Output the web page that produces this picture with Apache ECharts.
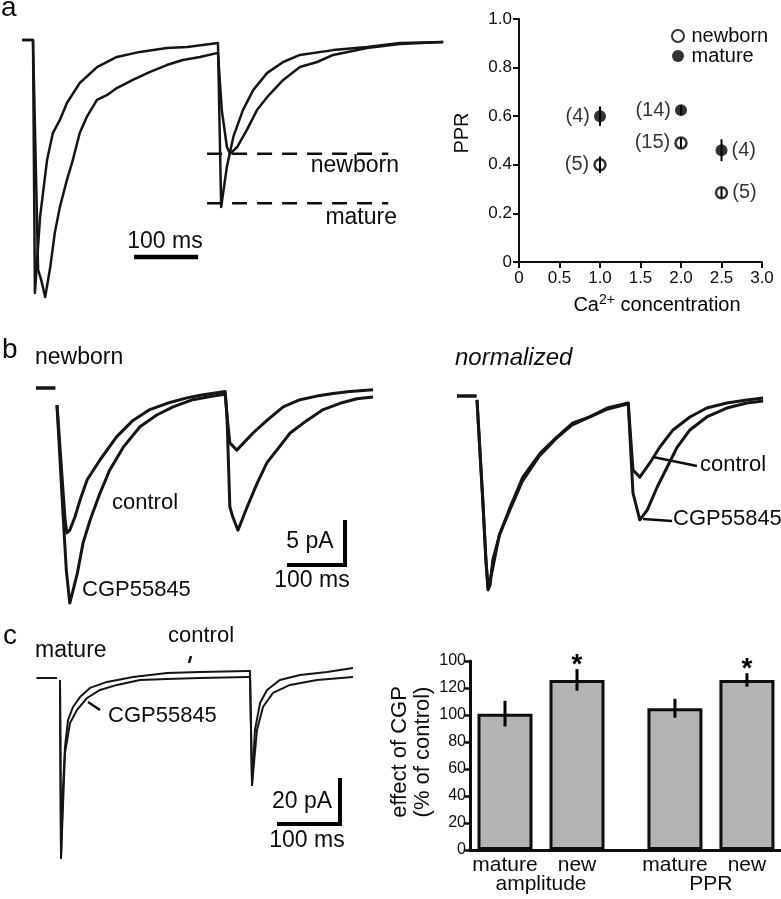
<!DOCTYPE html>
<html><head><meta charset="utf-8">
<script src="https://cdn.jsdelivr.net/npm/echarts@6/dist/echarts.min.js"></script>
<style>html,body{margin:0;padding:0;background:#fff}#c{width:781px;height:899px}</style>
</head><body><div id="c"></div>
<script>
// ---------------- DATA ----------------
// panel a: normalized currents (t in ms, I normalized to first peak)
const aMature = [[-17,0],[0,0],[3,-1.0],[11,-0.70],[22,-0.474],[31,-0.368],[42,-0.316],[53,-0.249],[73,-0.17],[100,-0.107],[131,-0.067],[167,-0.047],[209,-0.032],[241,-0.028],[289,-0.012],
  [291,-0.012],[294,-0.66],[303,-0.50],[313,-0.383],[328,-0.277],[344,-0.198],[366,-0.130],[391,-0.087],[417,-0.059],[469,-0.04],[522,-0.028],[573,-0.012],[641,-0.008]];
const aNewborn = [[-17,0],[0,0],[8,-0.909],[13,-0.95],[19,-1.016],[27,-0.897],[34,-0.763],[42,-0.66],[53,-0.553],[61,-0.486],[73,-0.368],[84,-0.304],[100,-0.237],[116,-0.217],[131,-0.19],[156,-0.158],[183,-0.126],[209,-0.099],[234,-0.079],[261,-0.067],[289,-0.051],
  [291,-0.051],[295,-0.277],[303,-0.423],[308,-0.45],[319,-0.423],[334,-0.356],[350,-0.277],[366,-0.225],[391,-0.158],[417,-0.107],[444,-0.087],[469,-0.059],[522,-0.032],[573,-0.016],[641,-0.008]];
const aPeakLevels = [-0.45, -0.645]; // newborn, mature second-response levels
const aLevelNames = ['newborn', 'mature'];

// panel a right: PPR vs Ca2+
const caConc = [1.0, 2.0, 2.5];
const pprMature = [0.60, 0.625, 0.46];
const pprMatureErr = [0.04, 0.02, 0.045];
const pprNewborn = [0.40, 0.49, 0.285];
const pprNewbornErr = [0.034, 0.02, 0.02];
const nMature = [4, 14, 4];
const nNewborn = [5, 15, 5];
const caTicks = ['0','0.5','1.0','1.5','2.0','2.5','3.0'];
const pprTicks = ['0','0.2','0.4','0.6','0.8','1.0'];

// panel b: newborn currents (pA)
const bControl = [[-36,0],[-3,0],[-2,'-'],[0,-1.9],[14,-14.7],[17,-16.1],[22,-15.8],[31,-14.3],[40,-12.4],[52,-10.2],[74,-8.0],[103,-5.4],[131,-3.6],[160,-2.4],[190,-1.7],[224,-1.1],[247,-0.8],[290,-0.4],
  [293,-3.0],[298,-6.1],[310,-6.9],[338,-5.0],[362,-3.6],[390,-2.1],[419,-1.3],[448,-0.9],[476,-0.6],[505,-0.4],[545,-0.2]];
const bCGP = [[-36,0],[-3,0],[-2,'-'],[0,-1.9],[9,-12.4],[16,-20.2],[22,-23.9],[28,-22.4],[35,-20.6],[45,-17.2],[57,-14.7],[74,-11.7],[91,-9.1],[114,-6.6],[143,-4.3],[172,-3.0],[200,-2.1],[234,-1.3],[269,-0.9],[290,-0.7],
  [293,-3.0],[298,-13.2],[303,-14.3],[312,-15.8],[328,-13.2],[345,-10.6],[362,-8.3],[379,-6.9],[402,-5.0],[431,-3.6],[459,-2.4],[488,-1.7],[517,-1.2],[545,-1.0]];
// panel b right: normalized
const nControl = [[-38,0],[-1,0],[0,'-'],[0,-0.02],[11,-0.536],[17,-0.845],[21,-1.0],[25,-0.974],[30,-0.845],[44,-0.706],[63,-0.572],[87,-0.418],[120,-0.294],[152,-0.211],[182,-0.139],[214,-0.108],[247,-0.062],[287,-0.036],
  [290,-0.036],[296,-0.381],[309,-0.418],[328,-0.345],[347,-0.263],[372,-0.175],[404,-0.108],[436,-0.062],[474,-0.036],[512,-0.021],[543,-0.010]];
const nCGP = [[-38,0],[-1,0],[0,'-'],[0,-0.02],[11,-0.54],[17,-0.85],[21,-0.99],[24,-1.0],[29,-0.9],[42,-0.72],[62,-0.59],[86,-0.44],[118,-0.31],[150,-0.22],[180,-0.15],[212,-0.11],[245,-0.07],[287,-0.04],
  [290,-0.04],[296,-0.5],[309,-0.639],[323,-0.588],[342,-0.469],[361,-0.366],[380,-0.263],[404,-0.175],[436,-0.108],[474,-0.062],[512,-0.036],[543,-0.026]];

// panel c: mature currents (pA)
const cControl = [[-37,0],[-5,0],[-4,'-'],[0,-0.9],[1.6,-78.3],[4.8,-47.4],[7.9,-30.0],[12.7,-18.3],[20.6,-12.6],[31.7,-8.3],[47.6,-4.3],[74.6,-1.7],[116,0.4],[170,2.2],[222,2.6],[298,3.0],
  [301.6,3.0],[304.8,-46.5],[309.5,-22.6],[317.5,-10.9],[328.6,-5.2],[349,-0.9],[381,1.3],[424,2.6],[465,4.3]];
const cCGP = [[-37,0],[-5,0],[-4,'-'],[0,-0.9],[1.6,-78.3],[7.9,-32.6],[15.9,-19.6],[27,-13.9],[42.9,-8.7],[63.5,-5.2],[90.5,-3.0],[127,-0.9],[170,-0.4],[222,0],[298,0.4],
  [301.6,0.4],[304.8,-46.5],[312.7,-22.6],[322.2,-12.6],[338.1,-6.5],[365.1,-3.0],[407.9,-0.9],[465,0.4]];

// panel c right: effect of CGP (% of control)
const effectGroups = ['amplitude', 'PPR'];
const effectCats = ['mature', 'new'];
const effectMature = [101, 105];
const effectMatureErr = [9.5, 7];
const effectNew = [126, 126];
const effectNewErr = [8, 5];
const effectNewSig = [true, true];
const effectTicks = ['0','20','40','60','80','100','120','100'];

// ---------------- CHART ----------------
const FF = '"Liberation Sans", Arial, Helvetica, sans-serif';
const INK = '#0d0d0d';
const chart = echarts.init(document.getElementById('c'), null, {renderer: 'canvas'});

const hiddenX = (gi, min, max) => ({type:'value', gridIndex: gi, min, max, show: false});
const hiddenY = hiddenX;
const trace = (data, xi, w) => ({type:'line', xAxisIndex: xi, yAxisIndex: xi, data, showSymbol:false, symbol:'none', silent:true,
  lineStyle:{color: '#151515', width: w || 2, join:'round'}, connectNulls:false, animation:false});
const bar = (data, xi, w) => ({type:'line', xAxisIndex: xi, yAxisIndex: xi, data, symbol:'none', silent:true,
  lineStyle:{color:'#000', width: w, join:'miter', cap:'butt'}, animation:false});

// bar positions (layout)
const barX = (g, i) => 1 + g * 2.36 + i;
const barData = [], errData = [];
effectGroups.forEach((g, gi) => {
  barData.push([barX(gi,0), effectMature[gi]]);
  barData.push([barX(gi,1), effectNew[gi]]);
  errData.push([barX(gi,0), effectMature[gi], effectMatureErr[gi], 0]);
  errData.push([barX(gi,1), effectNew[gi], effectNewErr[gi], effectNewSig[gi] ? 1 : 0]);
});

const errRender = (lw, withStar) => (params, api) => {
  const x = api.value(0), y = api.value(1), e = api.value(2);
  const p1 = api.coord([x, y - e]), p2 = api.coord([x, y + e]);
  const children = [{type:'line', shape:{x1:p1[0], y1:p1[1], x2:p2[0], y2:p2[1]}, style:{stroke:'#000', lineWidth: lw}}];
  if (withStar && api.value(3)) {
    children.push({type:'text', x: p2[0], y: p2[1] - 18, style:{text:'*', fontSize: 28, fontFamily: FF, fontWeight:'bold', fill:'#000', align:'center', verticalAlign:'top'}});
  }
  return {type:'group', children};
};

function T(x, y, text, size, align, extra) {
  return {type:'text', x, y, z:100, style: Object.assign({text, fontSize:size, fontFamily:FF, fill:INK, align: align || 'left', verticalAlign:'middle'}, extra || {})};
}
function L(x1, y1, x2, y2, w) {
  return {type:'line', z:100, shape:{x1,y1,x2,y2}, style:{stroke:INK, lineWidth:w}};
}

const option = {
  animation: false,
  backgroundColor: '#fff',
  textStyle: {fontFamily: FF, color: INK},
  grid: [
    {left: 13.8, top: 14.7, width: 435.2, height: 303.6},   // 0 traces a
    {left: 519, top: 19, width: 243, height: 243},          // 1 PPR scatter
    {left: 33.8, top: 370, width: 348, height: 252},        // 2 newborn traces
    {left: 455.9, top: 376.6, width: 316.2, height: 232.8}, // 3 normalized
    {left: 34.8, top: 666.5, width: 327.6, height: 207},    // 4 mature traces
    {left: 470, top: 661, width: 311, height: 189}          // 5 bar chart
  ],
  xAxis: [
    hiddenX(0, -30, 650),
    {type:'value', gridIndex:1, min:0, max:3, interval:0.5,
      axisLine:{show:true, lineStyle:{color:INK, width:2}}, axisTick:{show:true, length:6, lineStyle:{width:2, color:INK}},
      splitLine:{show:false},
      axisLabel:{fontSize:17, color:INK, margin:8, formatter: v => caTicks[Math.round(v/0.5)]}},
    hiddenX(2, -40, 560),
    hiddenX(3, -40, 560),
    hiddenX(4, -40, 480),
    {type:'value', gridIndex:5, min:0.514, max:4.833,
      axisLine:{show:true, onZero:false, lineStyle:{color:INK, width:3}}, axisTick:{show:false}, splitLine:{show:false},
      axisLabel:{fontSize:21, color:INK, margin:5, customValues: barData.map(d => d[0]),
        formatter: (v) => { const idx = barData.findIndex(d => Math.abs(d[0]-v) < 1e-6); return effectCats[idx % 2]; }}},
    {type:'value', gridIndex:5, min:0.514, max:4.833, position:'bottom', offset:21,
      axisLine:{show:false}, axisTick:{show:false}, splitLine:{show:false},
      axisLabel:{fontSize:21, color:INK, margin:3, customValues: effectGroups.map((g, gi) => barX(gi, 0.5)),
        formatter: (v) => { const gi = effectGroups.findIndex((g, i) => Math.abs(barX(i,0.5)-v) < 1e-6); return effectGroups[gi]; }}}
  ],
  yAxis: [
    hiddenY(0, -1.1, 0.1),
    {type:'value', gridIndex:1, min:0, max:1, interval:0.2,
      axisLine:{show:true, lineStyle:{color:INK, width:2}}, axisTick:{show:true, length:6, lineStyle:{width:2, color:INK}},
      splitLine:{show:false},
      axisLabel:{fontSize:17, color:INK, margin:7, formatter: v => pprTicks[Math.round(v/0.2)]}},
    hiddenY(2, -26, 2),
    hiddenY(3, -1.1, 0.1),
    hiddenY(4, -85, 5),
    {type:'value', gridIndex:5, min:0, max:140, interval:20,
      axisLine:{show:true, lineStyle:{color:INK, width:3}}, axisTick:{show:true, length:5, lineStyle:{width:2.5, color:INK}},
      splitLine:{show:false},
      axisLabel:{fontSize:16, color:INK, margin:4, formatter: v => effectTicks[Math.round(v/20)]}}
  ],
  legend: {
    left: 671, top: 26, orient:'vertical', itemGap: 0, itemWidth: 13, itemHeight: 12, padding: 0,
    data: ['newborn', 'mature'], selectedMode: false,
    textStyle: {fontSize: 20, color: INK, fontFamily: FF, padding:[0,0,0,2]}
  },
  series: [
    // panel a traces
    trace(aNewborn, 0, 2.5),
    trace(aMature, 0, 2.5),
    {type:'line', xAxisIndex:0, yAxisIndex:0, data:[[272, aPeakLevels[0]],[555, aPeakLevels[0]]], symbol:'none', silent:true,
      lineStyle:{color:INK, width:2.5, type:[15,10]}},
    {type:'line', xAxisIndex:0, yAxisIndex:0, data:[[272, aPeakLevels[1]],[555, aPeakLevels[1]]], symbol:'none', silent:true,
      lineStyle:{color:INK, width:2.5, type:[15,10]}},
    bar([[158, -0.858],[258, -0.858]], 0, 4.5),

    // PPR scatter
    {name:'newborn', type:'scatter', xAxisIndex:1, yAxisIndex:1, symbol:'circle', symbolSize:11,
      itemStyle:{color:'#fff', borderColor:'#000', borderWidth:2.5},
      data: caConc.map((c, i) => ({value:[c, pprNewborn[i]], label:{position: i === caConc.length-1 ? 'right' : 'left'}})),
      label:{show:true, fontSize:20, color:'#000', fontFamily:FF, distance:4, formatter: p => '(' + nNewborn[p.dataIndex] + ')'}},
    {name:'mature', type:'scatter', xAxisIndex:1, yAxisIndex:1, symbol:'circle', symbolSize:12,
      itemStyle:{color:'#000'},
      data: caConc.map((c, i) => ({value:[c, pprMature[i]], label:{position: i === caConc.length-1 ? 'right' : 'left'}})),
      label:{show:true, fontSize:20, color:'#000', fontFamily:FF, distance:4, formatter: p => '(' + nMature[p.dataIndex] + ')'}},
    {type:'custom', xAxisIndex:1, yAxisIndex:1, z:5, silent:true, renderItem: errRender(2, false),
      data: caConc.map((c, i) => [c, pprNewborn[i], pprNewbornErr[i]])},
    {type:'custom', xAxisIndex:1, yAxisIndex:1, z:5, silent:true, renderItem: errRender(2, false),
      data: caConc.map((c, i) => [c, pprMature[i], pprMatureErr[i]])},

    // panel b newborn
    trace(bControl, 2, 3),
    trace(bCGP, 2, 3),
    bar([[396.6, -19.67],[496.6, -19.67],[496.6, -14.67]], 2, 4),
    // panel b normalized
    trace(nControl, 3, 3),
    trace(nCGP, 3, 3),

    // panel c mature
    trace(cControl, 4, 2),
    trace(cCGP, 4, 2),
    bar([[344.4, -63.5],[444.4, -63.5],[444.4, -43.5]], 4, 4),

    // bar chart
    {type:'bar', xAxisIndex:5, yAxisIndex:5, data: barData, barWidth: 55, silent:true,
      itemStyle:{color:'#b4b4b4', borderColor:'#0d0d0d', borderWidth:3}},
    {type:'custom', xAxisIndex:5, yAxisIndex:5, z:5, silent:true, renderItem: errRender(3, true), data: errData}
  ],
  graphic: [
    T(1, 8, 'a', 28),
    T(165, 242, '100 ms', 23, 'center'),
    T(399, 166, aLevelNames[0], 23, 'right'),
    T(397, 218, aLevelNames[1], 23, 'right'),
    {type:'text', x:462, y:133, rotation:Math.PI/2, z:100, style:{text:'PPR', fontSize:20, fontFamily:FF, fill:INK, align:'center', verticalAlign:'middle'}},
    {type:'text', x:657, y:305, z:100, style:{text:'{a|Ca}{s|2+}{a| concentration}', align:'center', verticalAlign:'middle',
      rich:{a:{fontSize:20, fontFamily:FF, color:INK, lineHeight:24}, s:{fontSize:14, fontFamily:FF, color:INK, verticalAlign:'top', lineHeight:16}}}},
    T(2, 350, 'b', 28),
    T(35, 358, 'newborn', 23),
    T(112, 503, 'control', 22),
    T(82, 590, 'CGP55845', 22),
    T(310, 542, '5 pA', 23, 'center'),
    T(312, 581, '100 ms', 23, 'center'),
    T(455, 358, 'normalized', 24, 'left', {fontStyle:'italic'}),
    T(700, 465, 'control', 22),
    T(673, 519, 'CGP55845', 22),
    L(653, 457, 697, 466, 2.5),
    L(643, 519, 672, 521, 2.5),
    T(3, 636, 'c', 28),
    T(35, 651, 'mature', 23),
    T(168, 636, 'control', 22),
    L(191, 656, 189, 663, 2.5),
    T(108, 716, 'CGP55845', 22),
    L(88, 702, 100, 710, 2.5),
    T(302, 802, '20 pA', 23, 'center'),
    T(307, 841, '100 ms', 23, 'center'),
    {type:'text', x:411, y:752, rotation:Math.PI/2, z:100, style:{text:'effect of CGP\n(% of control)', fontSize:22, lineHeight:23, fontFamily:FF, fill:INK, align:'center', verticalAlign:'middle'}}
  ]
};
chart.setOption(option);
</script></body></html>
